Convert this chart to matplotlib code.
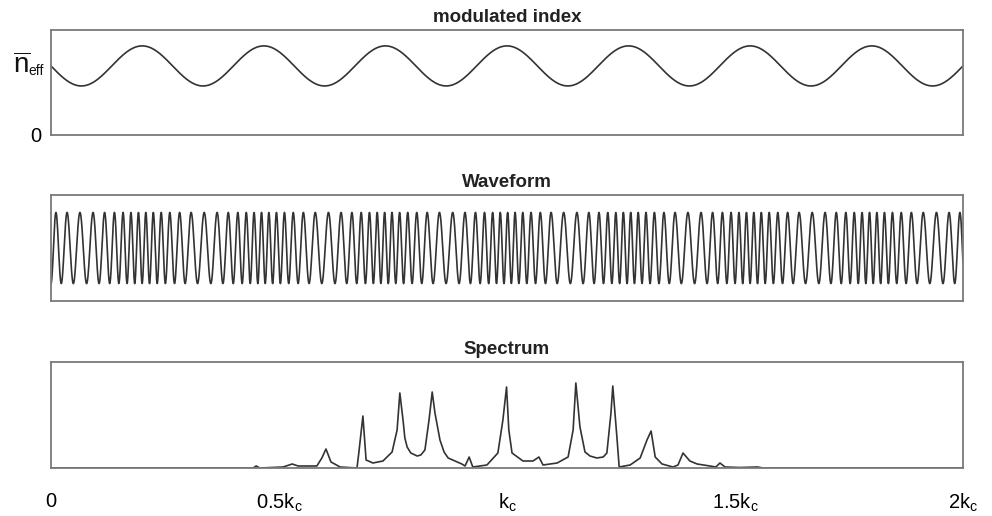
import numpy as np
import matplotlib
matplotlib.use('Agg')
import matplotlib.pyplot as plt
from matplotlib import transforms

plt.rcParams['font.family'] = ['Liberation Sans', 'DejaVu Sans']
plt.rcParams['mathtext.fontset'] = 'custom'
plt.rcParams['mathtext.rm'] = 'Liberation Sans'
plt.rcParams['mathtext.it'] = 'Liberation Sans:italic'
plt.rcParams['mathtext.bf'] = 'Liberation Sans:bold'

# ---------------- data ----------------
titles = ['modulated index', 'Waveform', 'Spectrum']

# modulated index: a sinusoid around n_eff
index_mean = 1.0          # n_eff
index_amplitude = 0.29    # relative modulation depth
modulation_periods = 7.5  # periods across the window
carrier_periods = 96      # carrier cycles across the window (k_c)

# spectrum polyline (k in units of k_c, power in arbitrary units)
spectrum_k = [0.000, 0.414, 0.443, 0.450, 0.458, 0.509, 0.529, 0.542, 0.583,
              0.594, 0.603, 0.614, 0.634, 0.671, 0.675, 0.684, 0.691, 0.706,
              0.728, 0.748, 0.759, 0.765, 0.772, 0.776, 0.781, 0.789, 0.803,
              0.811, 0.820, 0.829, 0.836, 0.842, 0.853, 0.862, 0.871, 0.901,
              0.908, 0.917, 0.925, 0.956, 0.980, 0.991, 0.999, 1.004, 1.011,
              1.035, 1.057, 1.070, 1.079, 1.110, 1.134, 1.145, 1.151, 1.160,
              1.171, 1.182, 1.197, 1.211, 1.219, 1.228, 1.232, 1.241, 1.246,
              1.270, 1.292, 1.307, 1.316, 1.325, 1.340, 1.364, 1.375, 1.386,
              1.401, 1.417, 1.445, 1.458, 1.467, 1.478, 1.511, 1.550, 1.561,
              2.000]
spectrum_power = [0, 0, 0, 2, 0, 1, 4, 2, 2,
                  10, 19, 6, 1, 0, 15, 52, 8, 5,
                  7, 16, 38, 75, 48, 30, 21, 15, 12,
                  13, 18, 48, 76, 55, 28, 16, 10, 4,
                  2, 11, 1, 3, 15, 48, 81, 38, 15,
                  7, 7, 11, 3, 5, 11, 38, 85, 41,
                  16, 12, 10, 11, 15, 55, 82, 31, 1,
                  3, 10, 28, 37, 11, 4, 1, 3, 15,
                  7, 4, 2, 1, 5, 1, 0.5, 1, 0,
                  0]
spectrum_ticks = [0, 0.5, 1, 1.5, 2]
spectrum_tick_labels = ['0', r'0.5k$_{\mathrm{c}}$', r'k$_{\mathrm{c}}$',
                        r'1.5k$_{\mathrm{c}}$', r'2k$_{\mathrm{c}}$']

# ---------------- figure ----------------
W, H = 992, 516
fig = plt.figure(figsize=(W / 100, H / 100), dpi=100)


def px_axes(left, top, right, bottom):
    return fig.add_axes([left / W, 1 - bottom / H, (right - left) / W, (bottom - top) / H])


spine_color = '#7a7a7a'
line_color = '#333333'

ax1 = px_axes(51, 30, 963, 135)
ax2 = px_axes(51, 195, 963, 301)
ax3 = px_axes(51, 362, 963, 468)

for ax, t in zip((ax1, ax2, ax3), titles):
    for s in ax.spines.values():
        s.set_color(spine_color)
        s.set_linewidth(1.3)
    ax.set_title(t, fontsize=13.5, fontweight='bold', pad=6, color='#222222')
    ax.tick_params(length=0)

# modulated index
x = np.linspace(0, 1, 4000)
index = index_mean - index_amplitude * index_mean * np.sin(2 * np.pi * modulation_periods * x)
ax1.plot(x, index, color=line_color, lw=1.2)
ax1.set_xlim(0, 1)
ax1.set_ylim(0, 1.52)
ax1.set_xticks([])
ax1.set_yticks([0])
ax1.set_yticklabels(['0'], fontsize=14.5)
ax1.tick_params(axis='y', pad=7)
trans = transforms.blended_transform_factory(ax1.transAxes, ax1.transData)
ax1.text(-21 / 912, 1.0, r'$\overline{\mathrm{n}}$', transform=trans,
         ha='right', va='center', fontsize=20, color='#111111')
ax1.text(-7 / 912, 0.92, 'eff', transform=trans,
         ha='right', va='center', fontsize=10, color='#111111')

# waveform: phase integrates the local index
local_k = index / index_mean
phase = 2 * np.pi * carrier_periods * np.concatenate([[0], np.cumsum(
    0.5 * (local_k[1:] + local_k[:-1]) * np.diff(x))])
ax2.plot(x, -np.cos(phase), color=line_color, lw=1.2)
ax2.set_xlim(0, 1)
ax2.set_ylim(-1.49, 1.49)
ax2.set_xticks([])
ax2.set_yticks([])

# spectrum
ax3.plot(spectrum_k, spectrum_power, color=line_color, lw=1.2)
ax3.set_xlim(0, 2)
ax3.set_ylim(0, 106)
ax3.set_yticks([])
ax3.set_xticks(spectrum_ticks)
ax3.set_xticklabels(spectrum_tick_labels, fontsize=14.5)
ax3.tick_params(axis='x', pad=17)

fig.savefig('out.png', dpi=100, facecolor='white')
